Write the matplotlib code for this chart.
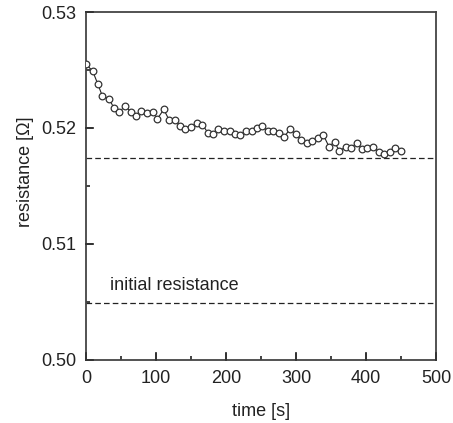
import matplotlib
matplotlib.use("Agg")
import matplotlib.pyplot as plt

plt.rcParams['font.family'] = ['Liberation Sans', 'DejaVu Sans']

# measured resistance vs time
time_s = [0, 9.5, 16.7, 23, 33, 40, 47.6, 56, 64, 71, 79, 87.6, 95, 102, 111,
          118.6, 127, 134, 142, 150, 158, 166, 174, 181, 189, 197, 205, 213,
          220, 228.6, 236.7, 244, 252, 259.5, 267.6, 276, 283, 291, 299.5,
          306.7, 315, 323, 331, 339, 347, 355, 362, 371, 378.6, 386.7, 394,
          401.9, 410, 418.6, 426, 434, 442, 450]
resistance = [0.5255, 0.5249, 0.5238, 0.5228, 0.5225, 0.5217, 0.5214, 0.5219,
              0.5214, 0.5210, 0.5215, 0.5213, 0.5214, 0.5208, 0.5216, 0.5207,
              0.5207, 0.5202, 0.5199, 0.5201, 0.5204, 0.5203, 0.5196, 0.5195,
              0.5199, 0.5197, 0.5197, 0.5195, 0.5194, 0.5197, 0.5197, 0.5200,
              0.5202, 0.5197, 0.5197, 0.5196, 0.5192, 0.5199, 0.5195, 0.5190,
              0.5187, 0.5189, 0.5191, 0.5194, 0.5184, 0.5188, 0.5180, 0.5184,
              0.5183, 0.5187, 0.5182, 0.5183, 0.5184, 0.5179, 0.5178, 0.5179,
              0.5183, 0.5180]

final_level = 0.5174
initial_level = 0.5049

y_ticks = [0.50, 0.51, 0.52, 0.53]
y_labels = ['0.50', '0.51', '0.52', '0.53']
y_minor = [0.505, 0.515, 0.525]
x_ticks = [0, 100, 200, 300, 400, 500]
x_minor = [50, 150, 250, 350, 450]

ink = '#222222'

fig = plt.figure(figsize=(4.53, 4.23), dpi=100)
ax = fig.add_axes([0.190, 0.149, 0.7725, 0.8226])

ax.plot(time_s, resistance, color=ink, lw=0.8, marker='o', ms=4.8,
        mfc='white', mec='#333333', mew=0.9, zorder=3)

ax.axhline(initial_level, color=ink, lw=0.9, dashes=(4.5, 2.5))
ax.axhline(final_level, color=ink, lw=0.9, dashes=(4.5, 2.5))
ax.text(34, 0.50638, 'initial resistance', fontsize=13, va='center', color=ink)

ax.set_xlim(0, 500)
ax.set_ylim(0.50, 0.53)
ax.set_xticks(x_ticks)
ax.set_xticks(x_minor, minor=True)
ax.set_yticks(y_ticks, y_labels)
ax.set_yticks(y_minor, minor=True)

# ticks point inward, majors twice as long as minors
ax.tick_params(which='major', direction='in', length=5, width=1.3,
               color='#333333')
ax.tick_params(which='minor', direction='in', length=2.8, width=1.3,
               color='#333333')
ax.tick_params(labelsize=13, labelcolor=ink, pad=7)

# major tick marks drawn again on the axes (they went missing in the preview)
for x in x_ticks:
    ax.plot([x, x], [0, 0.02], transform=ax.get_xaxis_transform(),
            color='#333333', lw=1.3, clip_on=False, zorder=4)
for y in y_ticks:
    ax.plot([0, 0.02], [y, y], transform=ax.get_yaxis_transform(),
            color='#333333', lw=1.3, clip_on=False, zorder=4)

for s in ax.spines.values():
    s.set_linewidth(1.3)
    s.set_color('#444444')

ax.set_xlabel('time [s]', fontsize=13, color=ink, labelpad=12)
ax.set_ylabel('resistance [Ω]', fontsize=13, color=ink)
ax.yaxis.set_label_coords(-0.148, 0.54)

fig.savefig('out.png', dpi=100)
